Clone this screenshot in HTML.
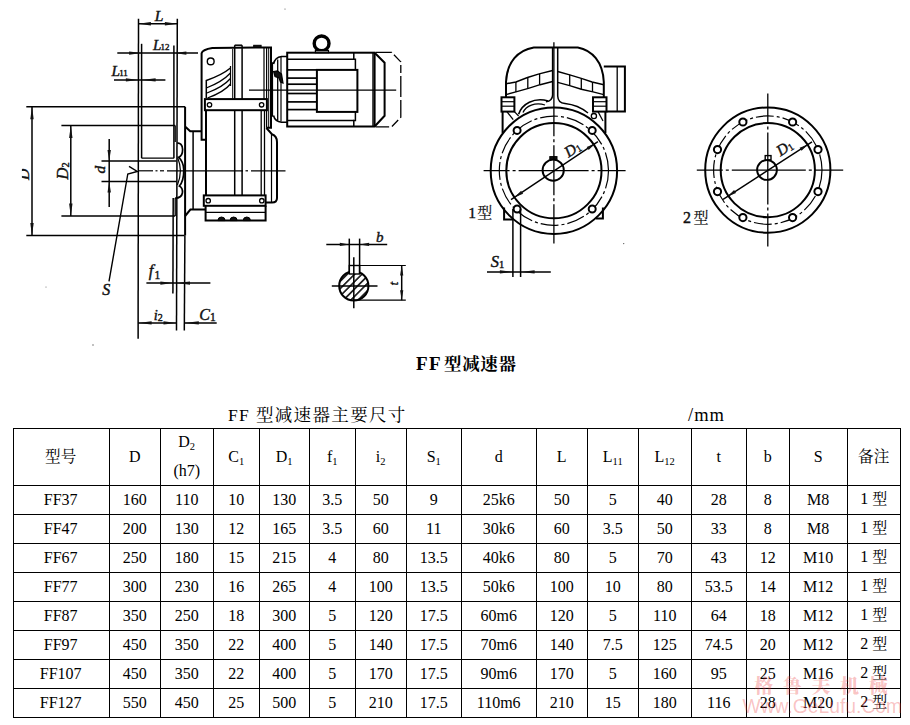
<!DOCTYPE html>
<html lang="zh-CN"><head><meta charset="utf-8"><title>FF 型减速器</title>
<style>
html,body{margin:0;padding:0;background:#fff;}
body{width:910px;height:725px;position:relative;overflow:hidden;font-family:"Liberation Serif","Noto Serif CJK SC",serif;color:#000;}
.ln{position:absolute;background:#000;}
.c{position:absolute;display:flex;align-items:center;justify-content:center;text-align:center;font-size:16px;line-height:29px;white-space:nowrap;}
.c span{display:block;position:relative;top:-1px;left:-0.3px;}
.c sub{font-size:10.5px;vertical-align:baseline;position:relative;top:3px;line-height:0;}
.c i.k{font-style:normal;font-size:15px;}
.c.h i.k{font-size:15.6px;}
.cap{position:absolute;white-space:nowrap;}
svg{position:absolute;left:0;top:0;}
svg tspan.cj{font-family:"Liberation Serif","Noto Serif CJK SC",serif !important;stroke-width:0.15px !important;}
svg text,svg tspan{stroke:#111;stroke-width:0.4px;fill:#111;font-family:"Liberation Serif",serif;}
.wm{position:absolute;color:rgba(235,50,50,0.30);white-space:nowrap;}
</style></head><body>
<svg width="910" height="400" viewBox="0 0 910 400" stroke="#000" stroke-linecap="butt">
<line x1="138.5" y1="18.8" x2="138.1" y2="338.7" stroke-width="1.5" />
<line x1="177.3" y1="18.8" x2="176.5" y2="330.4" stroke-width="1.5" />
<line x1="141.6" y1="43.8" x2="141.6" y2="158.2" stroke-width="1.5" />
<line x1="173.9" y1="45.6" x2="173.9" y2="158.2" stroke-width="1.5" />
<line x1="173.2" y1="198" x2="172.9" y2="293.6" stroke-width="1.5" />
<line x1="184.9" y1="235.6" x2="184.3" y2="330.4" stroke-width="1.5" />
<line x1="138.4" y1="23.8" x2="177.4" y2="23.8" stroke-width="1.5" />
<polygon points="138.4,23.8 150.9,25.5 150.9,22.1" fill="#111" stroke="none"/>
<polygon points="177.4,23.8 164.9,22.1 164.9,25.5" fill="#111" stroke="none"/>
<line x1="117.3" y1="53.1" x2="198" y2="53.1" stroke-width="1.5" />
<polygon points="141.6,53.1 129.1,51.4 129.1,54.8" fill="#111" stroke="none"/>
<polygon points="173.9,53.1 186.4,54.8 186.4,51.4" fill="#111" stroke="none"/>
<line x1="114" y1="79.9" x2="165.4" y2="79.9" stroke-width="1.5" />
<polygon points="138.4,79.9 125.9,78.2 125.9,81.6" fill="#111" stroke="none"/>
<polygon points="141.6,79.9 155.6,81.6 155.6,78.2" fill="#111" stroke="none"/>
<line x1="26.3" y1="106.8" x2="185.1" y2="106.8" stroke-width="1.5" />
<line x1="26.3" y1="235.6" x2="184.6" y2="235.6" stroke-width="1.5" />
<line x1="32" y1="106.8" x2="32" y2="235.6" stroke-width="1.5" />
<polygon points="32.0,106.8 30.3,119.3 33.7,119.3" fill="#111" stroke="none"/>
<polygon points="32.0,235.6 33.7,223.1 30.3,223.1" fill="#111" stroke="none"/>
<line x1="61.4" y1="125.6" x2="175.2" y2="125.6" stroke-width="1.5" />
<line x1="61.4" y1="216" x2="175.2" y2="216" stroke-width="1.5" />
<line x1="70.8" y1="125.6" x2="70.8" y2="216" stroke-width="1.5" />
<polygon points="70.8,125.6 69.1,138.1 72.5,138.1" fill="#111" stroke="none"/>
<polygon points="70.8,216.0 72.5,203.5 69.1,203.5" fill="#111" stroke="none"/>
<line x1="109.2" y1="138.9" x2="109.2" y2="207" stroke-width="1.5" />
<line x1="101.5" y1="160.9" x2="138.4" y2="160.9" stroke-width="1.5" />
<line x1="101.5" y1="181.5" x2="138.4" y2="181.5" stroke-width="1.5" />
<polygon points="109.2,160.9 110.9,149.9 107.5,149.9" fill="#111" stroke="none"/>
<polygon points="109.2,181.5 107.5,192.5 110.9,192.5" fill="#111" stroke="none"/>
<line x1="141.6" y1="158.2" x2="173.9" y2="158.2" stroke-width="1.3" />
<line x1="138.4" y1="160.9" x2="176.5" y2="160.9" stroke-width="1.5" />
<line x1="138.4" y1="181.5" x2="176.5" y2="181.5" stroke-width="1.3" />
<line x1="175.2" y1="125.6" x2="175.2" y2="142" stroke-width="1.3" />
<line x1="175.2" y1="198" x2="175.2" y2="216" stroke-width="1.3" />
<line x1="138.6" y1="170.8" x2="153" y2="170.8" stroke-width="1.2" />
<line x1="155.5" y1="170.8" x2="157.5" y2="170.8" stroke-width="1.2" />
<line x1="160" y1="170.8" x2="164" y2="170.8" stroke-width="1.2" />
<line x1="167" y1="170.8" x2="243" y2="170.8" stroke-width="1.2" />
<line x1="245.5" y1="170.8" x2="248" y2="170.8" stroke-width="1.2" />
<line x1="251" y1="170.8" x2="285.5" y2="170.8" stroke-width="1.2" />
<path d="M129,166.4 L137.3,171.4 L127.8,174 L109,281.4" stroke-width="1.4" fill="none" />
<line x1="146.4" y1="283.1" x2="210.4" y2="283.1" stroke-width="1.5" />
<polygon points="172.9,283.1 160.4,281.4 160.4,284.8" fill="#111" stroke="none"/>
<polygon points="176.5,283.1 190.0,284.8 190.0,281.4" fill="#111" stroke="none"/>
<line x1="138.1" y1="322.9" x2="176.5" y2="322.9" stroke-width="1.5" />
<polygon points="138.1,322.9 151.6,324.6 151.6,321.2" fill="#111" stroke="none"/>
<polygon points="176.5,322.9 163.5,321.2 163.5,324.6" fill="#111" stroke="none"/>
<line x1="184.3" y1="322.9" x2="216.7" y2="322.9" stroke-width="1.5" />
<polygon points="184.3,322.9 198.8,324.6 198.8,321.2" fill="#111" stroke="none"/>
<path d="M185.1,106.8 V235.6 M185.1,126.4 L190.2,131.2 H201.6" stroke-width="2.0" fill="none" />
<line x1="193.1" y1="131.2" x2="193.1" y2="209.6" stroke-width="1.5" />
<path d="M185.1,216 L190.4,209.6 H205.6" stroke-width="2.0" fill="none" />
<path d="M177.3,143.2 C180,142.6 182.6,145 182.6,149.5 C182.6,154 181,156.5 178.6,157.2 C180.5,159 183.6,163 183.8,170 C183.8,177 182.5,182.5 179.4,186 C182,187.5 182.8,190 182.4,193 C181.8,196.5 178.5,198 175.2,198.2" stroke-width="1.7" fill="none" />
<path d="M177.6,157.5 C179,161 180.4,165 180.4,170.5 C180.4,176 179,181 177.4,185" stroke-width="1.2" fill="none" />
<path d="M206,139.8 H201.6 V53.2 Q202.5,49.5 212.3,47.9 L271,47.4 V127.8 H266.4" stroke-width="2.0" fill="none" />
<line x1="264" y1="47.4" x2="264" y2="99.1" stroke-width="1.2" />
<line x1="266.6" y1="47.4" x2="266.6" y2="127.8" stroke-width="1.2" />
<line x1="268.7" y1="47.4" x2="268.7" y2="127.8" stroke-width="1.0" />
<line x1="206" y1="110.2" x2="206" y2="195.4" stroke-width="2.0" />
<line x1="234.7" y1="45.2" x2="234.7" y2="195.4" stroke-width="1.5" />
<line x1="242.1" y1="45.2" x2="242.1" y2="195.4" stroke-width="1.5" />
<line x1="234.7" y1="45.2" x2="242.1" y2="45.2" stroke-width="1.5" />
<line x1="232.7" y1="49" x2="232.7" y2="98.7" stroke-width="1.0" />
<rect x="204.9" y="99.1" width="62.0" height="11.1" stroke-width="2.0" fill="#fff"/>
<circle cx="209.5" cy="104.8" r="2.2" stroke-width="1.3" fill="none"/>
<circle cx="261.6" cy="104.8" r="2.2" stroke-width="1.3" fill="none"/>
<rect x="203.8" y="195.4" width="61.8" height="10.4" stroke-width="2.0" fill="#fff"/>
<circle cx="208.2" cy="200.7" r="2.2" stroke-width="1.3" fill="none"/>
<circle cx="261.8" cy="200.7" r="2.2" stroke-width="1.3" fill="none"/>
<path d="M205.6,205.8 V220.6 H265.6 V205.8" stroke-width="2.0" fill="none" />
<line x1="205.6" y1="212.4" x2="265.6" y2="212.4" stroke-width="1.2" />
<path d="M217.9,220.6 A3.6,3.6 0 0 1 225.1,220.6 Z" fill="#111" stroke-width="1"/>
<path d="M230.0,220.6 A3.6,3.6 0 0 1 237.2,220.6 Z" fill="#111" stroke-width="1"/>
<path d="M243.20000000000002,220.6 A3.6,3.6 0 0 1 250.4,220.6 Z" fill="#111" stroke-width="1"/>
<line x1="261.2" y1="110.2" x2="261.2" y2="195.4" stroke-width="1.3" />
<line x1="264.5" y1="110.2" x2="264.5" y2="195.4" stroke-width="1.3" />
<path d="M266.4,128 L271.9,134.2 Q277,136 277,142 V198 Q277,202.5 272,202.5 H265.6" stroke-width="2.0" fill="none" />
<line x1="271.5" y1="134" x2="271.5" y2="202.5" stroke-width="1.2" />
<circle cx="210.7" cy="61.4" r="3.4" stroke-width="1.4" fill="none"/>
<path d="M206.3,98 V80.5 Q222,75 230.5,68" stroke-width="1.5" fill="none" />
<path d="M206.3,88 Q222,82 230.5,73" stroke-width="1.3" fill="none" />
<path d="M207,93 Q223,87 230.5,78.5" stroke-width="1.3" fill="none" />
<path d="M207.5,98 Q224,92 230.5,84" stroke-width="1.3" fill="none" />
<line x1="230.5" y1="66" x2="230.5" y2="86" stroke-width="1.2" />
<rect x="253.7" y="45.3" width="7.4" height="2.1" stroke-width="1" fill="#111"/>
<path d="M272.3,62.3 V116.7 M273.5,64 Q275,57.2 281.5,56.5 H287.2 M273.5,115.5 Q275,121.5 281.5,122.2 H287.2" stroke-width="1.6" fill="none" />
<line x1="277.7" y1="59.5" x2="277.7" y2="120" stroke-width="1.3" />
<line x1="281" y1="57" x2="281" y2="121.6" stroke-width="1.2" />
<path d="M273.6,71.5 L277.5,70.8 L281.5,74 L283,83 L280.5,82 L279,78 L275,76.5 Z" fill="#111" stroke-width="1.2"/>
<rect x="287.2" y="52.7" width="87.4" height="73.8" stroke-width="2.0" fill="none"/>
<line x1="373" y1="52.7" x2="373" y2="126.5" stroke-width="1.4" />
<line x1="287.2" y1="59.2" x2="353.8" y2="59.2" stroke-width="1.5" />
<line x1="287.2" y1="120.4" x2="353.8" y2="120.4" stroke-width="1.5" />
<path d="M353.8,52.7 V59.2 H355.4 V69.9 M355.4,111.9 V120.4 H353.8 V126.5" stroke-width="1.5" fill="none" />
<line x1="287.2" y1="78.1" x2="317" y2="78.1" stroke-width="1.7" />
<line x1="287.2" y1="84.2" x2="317" y2="84.2" stroke-width="1.7" />
<line x1="287.2" y1="93.5" x2="317" y2="93.5" stroke-width="1.7" />
<line x1="287.2" y1="101.9" x2="317" y2="101.9" stroke-width="1.7" />
<line x1="287.2" y1="109.6" x2="317" y2="109.6" stroke-width="1.7" />
<line x1="287.2" y1="69.9" x2="317" y2="69.9" stroke-width="1.7" />
<rect x="316.9" y="69.9" width="40.5" height="42.0" stroke-width="2.0" fill="none"/>
<path d="M374.6,52.7 L384.6,62.7 V115.8 L374.6,126.5" stroke-width="2.0" fill="none" />
<path d="M376,52.3 H391.5 L400.8,61.9 V117.3 L391.5,126.9 H376" stroke-width="1.3" fill="none" stroke-dasharray="16 3 10 3 8 3 21 3 18 3 9 3"/>
<circle cx="321.6" cy="43.4" r="7.4" stroke-width="3.4" fill="none"/>
<rect x="315.4" y="50.4" width="13.1" height="2.3" stroke-width="1.2" fill="#777"/>
<line x1="249" y1="90.2" x2="396.2" y2="90.2" stroke-width="1.3" />
<defs><pattern id="hat" width="5.2" height="5.2" patternUnits="userSpaceOnUse" patternTransform="rotate(-45 353.8 285.9)"><line x1="0" y1="2.6" x2="5.2" y2="2.6" stroke="#000" stroke-width="1.5"/></pattern></defs>
<circle cx="353.8" cy="285.9" r="14.6" stroke-width="2.0" fill="url(#hat)"/>
<rect x="349.3" y="265.5" width="10.3" height="8.5" stroke-width="1.4" fill="#fff"/>
<line x1="349.3" y1="238.6" x2="349.3" y2="274" stroke-width="1.5" />
<line x1="359.6" y1="238.6" x2="359.6" y2="274" stroke-width="1.5" />
<line x1="326.3" y1="244.4" x2="387.2" y2="244.4" stroke-width="1.5" />
<polygon points="349.3,244.4 339.8,242.8 339.8,246.0" fill="#111" stroke="none"/>
<polygon points="359.6,244.4 369.1,246.0 369.1,242.8" fill="#111" stroke="none"/>
<line x1="359.6" y1="265.5" x2="405.8" y2="265.5" stroke-width="1.2" />
<line x1="353.8" y1="300.2" x2="405.8" y2="300.2" stroke-width="1.2" />
<line x1="401.7" y1="265.5" x2="401.7" y2="300.2" stroke-width="1.5" />
<polygon points="401.7,265.5 400.1,275.5 403.3,275.5" fill="#111" stroke="none"/>
<polygon points="401.7,300.2 403.3,290.2 400.1,290.2" fill="#111" stroke="none"/>
<line x1="331.8" y1="285.9" x2="377.5" y2="285.9" stroke-width="1.5" />
<line x1="353.8" y1="257.2" x2="353.8" y2="308.2" stroke-width="1.5" />
<circle cx="553.9" cy="170.7" r="63.2" stroke-width="2.0" fill="none"/>
<circle cx="553.9" cy="170.7" r="47.6" stroke-width="2.0" fill="none"/>
<circle cx="553.9" cy="170.7" r="54.6" stroke-width="1.2" fill="none" stroke-dasharray="18 3 3 3"/>
<circle cx="517.1" cy="130.4" r="3.5" stroke-width="2.0" fill="#fff"/>
<circle cx="592.2" cy="130.4" r="3.5" stroke-width="2.0" fill="#fff"/>
<circle cx="517.1" cy="209.0" r="3.5" stroke-width="2.0" fill="#fff"/>
<circle cx="592.2" cy="209.0" r="3.5" stroke-width="2.0" fill="#fff"/>
<circle cx="553.2" cy="170.2" r="10.6" stroke-width="1.9" fill="none"/>
<rect x="549.8" y="156.6" width="7.2" height="2.7" stroke-width="1" fill="#111"/>
<line x1="483.6" y1="170.7" x2="625.6" y2="170.7" stroke-width="1.3" stroke-dasharray="26 3 3 3 70 3 3 3 60"/>
<line x1="553.9" y1="42.2" x2="553.9" y2="243.6" stroke-width="1.3" stroke-dasharray="94 3 3 3 50 3 3 3 60"/>
<line x1="511" y1="199.7" x2="597.9" y2="141.6" stroke-width="1.4" />
<polygon points="514.6,197.3 523.1,193.8 521.1,190.8" fill="#111" stroke="none"/>
<polygon points="595.2,143.4 586.7,146.9 588.7,149.9" fill="#111" stroke="none"/>
<path d="M506,97.3 V82 C507,62 518,50 533.8,47.4 H577.8 C592,50 603,62 603.8,82 V97.3" stroke-width="2.0" fill="none" />
<path d="M506,83.8 L515.9,82 L527.5,77.5 L539.2,73.9 L552.6,70.5" stroke-width="1.4" fill="none" />
<path d="M506,94.6 L515.9,91.9 L528.4,88.3 L540.1,84.7 L552.6,81.5" stroke-width="1.4" fill="none" />
<path d="M557.7,71.5 L569.7,74.8 L581.3,78.4 L592.1,82 L603.8,84.7" stroke-width="1.4" fill="none" />
<path d="M557.7,82.3 L569.7,85.6 L581.3,89.2 L593,91.9 L603.8,94.6" stroke-width="1.4" fill="none" />
<line x1="515.9" y1="82" x2="515.9" y2="91.9" stroke-width="1.3" />
<line x1="527.8" y1="77.5" x2="527.8" y2="88.3" stroke-width="1.3" />
<line x1="539.6" y1="73.9" x2="539.6" y2="84.7" stroke-width="1.3" />
<line x1="569.7" y1="74.8" x2="569.7" y2="85.6" stroke-width="1.3" />
<line x1="581.3" y1="78.4" x2="581.3" y2="89.2" stroke-width="1.3" />
<line x1="592.5" y1="82" x2="592.5" y2="91.9" stroke-width="1.3" />
<path d="M552.6,47.4 V95 Q552.4,101 546,101.8 M557.7,47.4 V96 Q558,103 565,103.6 Q578,105 588,113" stroke-width="1.5" fill="none" />
<rect x="501.5" y="97.3" width="12.9" height="14.3" stroke-width="2.0" fill="none"/>
<line x1="501.5" y1="101.7" x2="514.4" y2="101.7" stroke-width="1.2" />
<line x1="501.5" y1="106.2" x2="514.4" y2="106.2" stroke-width="1.2" />
<rect x="593" y="97.3" width="13.5" height="14.3" stroke-width="2.0" fill="none"/>
<line x1="593" y1="101.7" x2="606.5" y2="101.7" stroke-width="1.2" />
<line x1="593" y1="106.2" x2="606.5" y2="106.2" stroke-width="1.2" />
<path d="M603.8,66.4 H624.9 V111.6 H606.5" stroke-width="2.0" fill="none" />
<line x1="617.2" y1="66.4" x2="617.2" y2="111.6" stroke-width="1.3" />
<line x1="502.6" y1="111.6" x2="502.6" y2="133" stroke-width="2.0" />
<line x1="605.4" y1="111.6" x2="605.4" y2="133" stroke-width="2.0" />
<path d="M504.1,207.6 V219.5 H513.2 M602.9,207.6 V218.6 H596" stroke-width="2.0" fill="none" />
<path d="M518.6,114.3 C522,104 534,97 548.2,101" stroke-width="1.6" fill="none" />
<path d="M523,112.5 C526,106 535,102 545,105" stroke-width="1.3" fill="none" />
<line x1="506.9" y1="111.6" x2="513.2" y2="119.7" stroke-width="1.3" />
<line x1="514.4" y1="111.6" x2="518.6" y2="116" stroke-width="1.2" />
<circle cx="593.9" cy="116.1" r="2.6" stroke-width="1.3" fill="none"/>
<line x1="598" y1="111.6" x2="603" y2="121" stroke-width="1.2" />
<line x1="512.9" y1="209" x2="512.9" y2="277" stroke-width="1.5" />
<line x1="520.6" y1="209" x2="520.6" y2="277" stroke-width="1.5" />
<line x1="487" y1="271.9" x2="550.8" y2="271.9" stroke-width="1.5" />
<polygon points="512.9,271.9 499.9,270.2 499.9,273.6" fill="#111" stroke="none"/>
<polygon points="520.6,271.9 534.6,273.6 534.6,270.2" fill="#111" stroke="none"/>
<circle cx="767.8" cy="170.1" r="62.6" stroke-width="2.0" fill="none"/>
<circle cx="767.8" cy="170.1" r="47.1" stroke-width="2.0" fill="none"/>
<circle cx="767.8" cy="170.1" r="54.2" stroke-width="1.2" fill="none" stroke-dasharray="18 3 3 3"/>
<circle cx="742.9" cy="122" r="3.6" stroke-width="2.0" fill="#fff"/>
<circle cx="792.6" cy="122" r="3.6" stroke-width="2.0" fill="#fff"/>
<circle cx="717.5" cy="149.6" r="3.6" stroke-width="2.0" fill="#fff"/>
<circle cx="818" cy="149.6" r="3.6" stroke-width="2.0" fill="#fff"/>
<circle cx="717.5" cy="191.6" r="3.6" stroke-width="2.0" fill="#fff"/>
<circle cx="818" cy="191.6" r="3.6" stroke-width="2.0" fill="#fff"/>
<circle cx="742.9" cy="217.6" r="3.6" stroke-width="2.0" fill="#fff"/>
<circle cx="792.6" cy="217.6" r="3.6" stroke-width="2.0" fill="#fff"/>
<circle cx="767" cy="170" r="9.9" stroke-width="1.9" fill="none"/>
<rect x="765.2" y="155.6" width="5.8" height="4.2" stroke-width="1.4" fill="#fff"/>
<line x1="696.8" y1="170.1" x2="843.2" y2="170.1" stroke-width="1.3" stroke-dasharray="26 3 3 3 74 3 3 3 60"/>
<line x1="767.8" y1="93.4" x2="767.8" y2="246.5" stroke-width="1.3" stroke-dasharray="30 3 3 3 72 3 3 3 60"/>
<line x1="723.1" y1="199.3" x2="812" y2="141.9" stroke-width="1.4" />
<polygon points="727.5,196.5 736.0,193.1 734.1,190.1" fill="#111" stroke="none"/>
<polygon points="808.1,144.4 799.6,147.8 801.5,150.8" fill="#111" stroke="none"/>
<text x="154.8" y="20.5" font-size="15.6" font-style="italic">L</text>
<text x="153" y="49.7" font-size="15" font-style="italic">L<tspan font-size="9" font-style="normal" dy="0.6" dx="-0.8">12</tspan></text>
<text x="111.5" y="75.8" font-size="15.3" font-style="italic">L<tspan font-size="9" font-style="normal" dy="0.6" dx="-0.8">11</tspan></text>
<text x="29.3" y="180" font-size="15.5" transform="rotate(-90 29.3 180)" font-style="italic">D</text>
<rect x="14" y="160" width="7.9" height="30" fill="#fff" stroke="none"/>
<text x="67.8" y="179.5" font-size="16.5" transform="rotate(-90 67.8 179.5)" font-style="italic">D<tspan font-size="10.5" font-style="normal" dy="1.5" dx="0">2</tspan></text>
<text x="104.7" y="173.5" font-size="15.5" transform="rotate(-90 104.7 173.5)" font-style="italic">d</text>
<text x="102.2" y="295" font-size="16" font-style="italic">S</text>
<text x="148.7" y="275.8" font-size="16.6" font-style="italic">f<tspan font-size="11.5" font-style="normal" dy="3.6" dx="1.2">1</tspan></text>
<text x="153.8" y="320" font-size="14.5" font-style="italic">i<tspan font-size="10" font-style="normal" dy="1.4" dx="0">2</tspan></text>
<text x="199.3" y="320" font-size="16" font-style="italic">C<tspan font-size="11.5" font-style="normal" dy="1" dx="0">1</tspan></text>
<text x="376" y="242" font-size="15" font-style="italic">b</text>
<text x="398.4" y="285.6" font-size="13.5" transform="rotate(-90 398.4 285.6)" font-style="italic">t</text>
<text x="568.5" y="157.8" font-size="15.5" transform="rotate(-33 568.5 157.8)" font-style="italic">D<tspan font-size="10" font-style="normal" dy="1" dx="0">1</tspan></text>
<text x="780.5" y="156.6" font-size="15.5" transform="rotate(-33 780.5 156.6)" font-style="italic">D<tspan font-size="10" font-style="normal" dy="1" dx="0">1</tspan></text>
<text x="490.8" y="266.8" font-size="16.5" font-style="italic">S<tspan font-size="10.5" font-style="normal" dy="1" dx="0">1</tspan></text>
<text x="468.2" y="218.3" font-size="15.5" >1<tspan class="cj" font-size="15" dx="1.2">型</tspan></text>
<text x="683" y="223.4" font-size="16" >2<tspan class="cj" font-size="15" dx="2.5">型</tspan></text>
<circle cx="285" cy="9" r="0.6" fill="#555" stroke="none"/>
<circle cx="93" cy="345" r="0.7" fill="#555" stroke="none"/>
<circle cx="623.7" cy="243.6" r="0.7" fill="#555" stroke="none"/>
<circle cx="46" cy="287" r="0.5" fill="#555" stroke="none"/>
</svg>
<div class="cap" style="left:416px;top:352px;font-size:17.5px;font-weight:bold;letter-spacing:0.65px;line-height:24px;"><span style="font-size:19px;letter-spacing:1.3px">FF</span><span style="letter-spacing:-2.2px"> </span>型减速器</div>
<div class="cap" style="left:228px;top:403px;font-size:17.5px;letter-spacing:1.35px;line-height:24px;">FF 型减速器主要尺寸</div>
<div class="cap" style="left:688px;top:403px;font-size:18.5px;letter-spacing:1px;line-height:24px;">/mm</div>
<div class="ln" style="left:13px;top:428px;width:1px;height:290px"></div>
<div class="ln" style="left:109px;top:428px;width:1px;height:290px"></div>
<div class="ln" style="left:160px;top:428px;width:1px;height:290px"></div>
<div class="ln" style="left:213px;top:428px;width:1px;height:290px"></div>
<div class="ln" style="left:259px;top:428px;width:1px;height:290px"></div>
<div class="ln" style="left:309px;top:428px;width:1px;height:290px"></div>
<div class="ln" style="left:355px;top:428px;width:1px;height:290px"></div>
<div class="ln" style="left:406px;top:428px;width:1px;height:290px"></div>
<div class="ln" style="left:461px;top:428px;width:1px;height:290px"></div>
<div class="ln" style="left:536px;top:428px;width:1px;height:290px"></div>
<div class="ln" style="left:587px;top:428px;width:1px;height:290px"></div>
<div class="ln" style="left:638px;top:428px;width:1px;height:290px"></div>
<div class="ln" style="left:691px;top:428px;width:1px;height:290px"></div>
<div class="ln" style="left:746px;top:428px;width:1px;height:290px"></div>
<div class="ln" style="left:789px;top:428px;width:1px;height:290px"></div>
<div class="ln" style="left:847px;top:428px;width:1px;height:290px"></div>
<div class="ln" style="left:900px;top:428px;width:1px;height:290px"></div>
<div class="ln" style="left:13px;top:428px;width:888px;height:1px"></div>
<div class="ln" style="left:13px;top:485px;width:888px;height:1px"></div>
<div class="ln" style="left:13px;top:514px;width:888px;height:1px"></div>
<div class="ln" style="left:13px;top:543px;width:888px;height:1px"></div>
<div class="ln" style="left:13px;top:572px;width:888px;height:1px"></div>
<div class="ln" style="left:13px;top:601px;width:888px;height:1px"></div>
<div class="ln" style="left:13px;top:630px;width:888px;height:1px"></div>
<div class="ln" style="left:13px;top:659px;width:888px;height:1px"></div>
<div class="ln" style="left:13px;top:688px;width:888px;height:1px"></div>
<div class="ln" style="left:13px;top:717px;width:888px;height:1px"></div>
<div class="c h" style="left:13px;top:429px;width:96px;height:56px"><span><i class=k>型号</i></span></div>
<div class="c h" style="left:110px;top:429px;width:50px;height:56px"><span>D</span></div>
<div class="c h2" style="left:161px;top:429px;width:52px;height:56px"><span>D<sub>2</sub><br>(h7)</span></div>
<div class="c h" style="left:214px;top:429px;width:45px;height:56px"><span>C<sub>1</sub></span></div>
<div class="c h" style="left:260px;top:429px;width:49px;height:56px"><span>D<sub>1</sub></span></div>
<div class="c h" style="left:310px;top:429px;width:45px;height:56px"><span>f<sub>1</sub></span></div>
<div class="c h" style="left:356px;top:429px;width:50px;height:56px"><span>i<sub>2</sub></span></div>
<div class="c h" style="left:407px;top:429px;width:54px;height:56px"><span>S<sub>1</sub></span></div>
<div class="c h" style="left:462px;top:429px;width:74px;height:56px"><span>d</span></div>
<div class="c h" style="left:537px;top:429px;width:50px;height:56px"><span>L</span></div>
<div class="c h" style="left:588px;top:429px;width:50px;height:56px"><span>L<sub>11</sub></span></div>
<div class="c h" style="left:639px;top:429px;width:52px;height:56px"><span>L<sub>12</sub></span></div>
<div class="c h" style="left:692px;top:429px;width:54px;height:56px"><span>t</span></div>
<div class="c h" style="left:747px;top:429px;width:42px;height:56px"><span>b</span></div>
<div class="c h" style="left:790px;top:429px;width:57px;height:56px"><span>S</span></div>
<div class="c h" style="left:848px;top:429px;width:52px;height:56px"><span><i class=k>备注</i></span></div>
<div class="c " style="left:13px;top:486px;width:96px;height:28px"><span>FF37</span></div>
<div class="c " style="left:110px;top:486px;width:50px;height:28px"><span>160</span></div>
<div class="c " style="left:161px;top:486px;width:52px;height:28px"><span>110</span></div>
<div class="c " style="left:214px;top:486px;width:45px;height:28px"><span>10</span></div>
<div class="c " style="left:260px;top:486px;width:49px;height:28px"><span>130</span></div>
<div class="c " style="left:310px;top:486px;width:45px;height:28px"><span>3.5</span></div>
<div class="c " style="left:356px;top:486px;width:50px;height:28px"><span>50</span></div>
<div class="c " style="left:407px;top:486px;width:54px;height:28px"><span>9</span></div>
<div class="c " style="left:462px;top:486px;width:74px;height:28px"><span>25k6</span></div>
<div class="c " style="left:537px;top:486px;width:50px;height:28px"><span>50</span></div>
<div class="c " style="left:588px;top:486px;width:50px;height:28px"><span>5</span></div>
<div class="c " style="left:639px;top:486px;width:52px;height:28px"><span>40</span></div>
<div class="c " style="left:692px;top:486px;width:54px;height:28px"><span>28</span></div>
<div class="c " style="left:747px;top:486px;width:42px;height:28px"><span>8</span></div>
<div class="c " style="left:790px;top:486px;width:57px;height:28px"><span>M8</span></div>
<div class="c " style="left:848px;top:486px;width:52px;height:28px"><span>1 <i class=k>型</i></span></div>
<div class="c " style="left:13px;top:515px;width:96px;height:28px"><span>FF47</span></div>
<div class="c " style="left:110px;top:515px;width:50px;height:28px"><span>200</span></div>
<div class="c " style="left:161px;top:515px;width:52px;height:28px"><span>130</span></div>
<div class="c " style="left:214px;top:515px;width:45px;height:28px"><span>12</span></div>
<div class="c " style="left:260px;top:515px;width:49px;height:28px"><span>165</span></div>
<div class="c " style="left:310px;top:515px;width:45px;height:28px"><span>3.5</span></div>
<div class="c " style="left:356px;top:515px;width:50px;height:28px"><span>60</span></div>
<div class="c " style="left:407px;top:515px;width:54px;height:28px"><span>11</span></div>
<div class="c " style="left:462px;top:515px;width:74px;height:28px"><span>30k6</span></div>
<div class="c " style="left:537px;top:515px;width:50px;height:28px"><span>60</span></div>
<div class="c " style="left:588px;top:515px;width:50px;height:28px"><span>3.5</span></div>
<div class="c " style="left:639px;top:515px;width:52px;height:28px"><span>50</span></div>
<div class="c " style="left:692px;top:515px;width:54px;height:28px"><span>33</span></div>
<div class="c " style="left:747px;top:515px;width:42px;height:28px"><span>8</span></div>
<div class="c " style="left:790px;top:515px;width:57px;height:28px"><span>M8</span></div>
<div class="c " style="left:848px;top:515px;width:52px;height:28px"><span>1 <i class=k>型</i></span></div>
<div class="c " style="left:13px;top:544px;width:96px;height:28px"><span>FF67</span></div>
<div class="c " style="left:110px;top:544px;width:50px;height:28px"><span>250</span></div>
<div class="c " style="left:161px;top:544px;width:52px;height:28px"><span>180</span></div>
<div class="c " style="left:214px;top:544px;width:45px;height:28px"><span>15</span></div>
<div class="c " style="left:260px;top:544px;width:49px;height:28px"><span>215</span></div>
<div class="c " style="left:310px;top:544px;width:45px;height:28px"><span>4</span></div>
<div class="c " style="left:356px;top:544px;width:50px;height:28px"><span>80</span></div>
<div class="c " style="left:407px;top:544px;width:54px;height:28px"><span>13.5</span></div>
<div class="c " style="left:462px;top:544px;width:74px;height:28px"><span>40k6</span></div>
<div class="c " style="left:537px;top:544px;width:50px;height:28px"><span>80</span></div>
<div class="c " style="left:588px;top:544px;width:50px;height:28px"><span>5</span></div>
<div class="c " style="left:639px;top:544px;width:52px;height:28px"><span>70</span></div>
<div class="c " style="left:692px;top:544px;width:54px;height:28px"><span>43</span></div>
<div class="c " style="left:747px;top:544px;width:42px;height:28px"><span>12</span></div>
<div class="c " style="left:790px;top:544px;width:57px;height:28px"><span>M10</span></div>
<div class="c " style="left:848px;top:544px;width:52px;height:28px"><span>1 <i class=k>型</i></span></div>
<div class="c " style="left:13px;top:573px;width:96px;height:28px"><span>FF77</span></div>
<div class="c " style="left:110px;top:573px;width:50px;height:28px"><span>300</span></div>
<div class="c " style="left:161px;top:573px;width:52px;height:28px"><span>230</span></div>
<div class="c " style="left:214px;top:573px;width:45px;height:28px"><span>16</span></div>
<div class="c " style="left:260px;top:573px;width:49px;height:28px"><span>265</span></div>
<div class="c " style="left:310px;top:573px;width:45px;height:28px"><span>4</span></div>
<div class="c " style="left:356px;top:573px;width:50px;height:28px"><span>100</span></div>
<div class="c " style="left:407px;top:573px;width:54px;height:28px"><span>13.5</span></div>
<div class="c " style="left:462px;top:573px;width:74px;height:28px"><span>50k6</span></div>
<div class="c " style="left:537px;top:573px;width:50px;height:28px"><span>100</span></div>
<div class="c " style="left:588px;top:573px;width:50px;height:28px"><span>10</span></div>
<div class="c " style="left:639px;top:573px;width:52px;height:28px"><span>80</span></div>
<div class="c " style="left:692px;top:573px;width:54px;height:28px"><span>53.5</span></div>
<div class="c " style="left:747px;top:573px;width:42px;height:28px"><span>14</span></div>
<div class="c " style="left:790px;top:573px;width:57px;height:28px"><span>M12</span></div>
<div class="c " style="left:848px;top:573px;width:52px;height:28px"><span>1 <i class=k>型</i></span></div>
<div class="c " style="left:13px;top:602px;width:96px;height:28px"><span>FF87</span></div>
<div class="c " style="left:110px;top:602px;width:50px;height:28px"><span>350</span></div>
<div class="c " style="left:161px;top:602px;width:52px;height:28px"><span>250</span></div>
<div class="c " style="left:214px;top:602px;width:45px;height:28px"><span>18</span></div>
<div class="c " style="left:260px;top:602px;width:49px;height:28px"><span>300</span></div>
<div class="c " style="left:310px;top:602px;width:45px;height:28px"><span>5</span></div>
<div class="c " style="left:356px;top:602px;width:50px;height:28px"><span>120</span></div>
<div class="c " style="left:407px;top:602px;width:54px;height:28px"><span>17.5</span></div>
<div class="c " style="left:462px;top:602px;width:74px;height:28px"><span>60m6</span></div>
<div class="c " style="left:537px;top:602px;width:50px;height:28px"><span>120</span></div>
<div class="c " style="left:588px;top:602px;width:50px;height:28px"><span>5</span></div>
<div class="c " style="left:639px;top:602px;width:52px;height:28px"><span>110</span></div>
<div class="c " style="left:692px;top:602px;width:54px;height:28px"><span>64</span></div>
<div class="c " style="left:747px;top:602px;width:42px;height:28px"><span>18</span></div>
<div class="c " style="left:790px;top:602px;width:57px;height:28px"><span>M12</span></div>
<div class="c " style="left:848px;top:602px;width:52px;height:28px"><span>1 <i class=k>型</i></span></div>
<div class="c " style="left:13px;top:631px;width:96px;height:28px"><span>FF97</span></div>
<div class="c " style="left:110px;top:631px;width:50px;height:28px"><span>450</span></div>
<div class="c " style="left:161px;top:631px;width:52px;height:28px"><span>350</span></div>
<div class="c " style="left:214px;top:631px;width:45px;height:28px"><span>22</span></div>
<div class="c " style="left:260px;top:631px;width:49px;height:28px"><span>400</span></div>
<div class="c " style="left:310px;top:631px;width:45px;height:28px"><span>5</span></div>
<div class="c " style="left:356px;top:631px;width:50px;height:28px"><span>140</span></div>
<div class="c " style="left:407px;top:631px;width:54px;height:28px"><span>17.5</span></div>
<div class="c " style="left:462px;top:631px;width:74px;height:28px"><span>70m6</span></div>
<div class="c " style="left:537px;top:631px;width:50px;height:28px"><span>140</span></div>
<div class="c " style="left:588px;top:631px;width:50px;height:28px"><span>7.5</span></div>
<div class="c " style="left:639px;top:631px;width:52px;height:28px"><span>125</span></div>
<div class="c " style="left:692px;top:631px;width:54px;height:28px"><span>74.5</span></div>
<div class="c " style="left:747px;top:631px;width:42px;height:28px"><span>20</span></div>
<div class="c " style="left:790px;top:631px;width:57px;height:28px"><span>M12</span></div>
<div class="c " style="left:848px;top:631px;width:52px;height:28px"><span>2 <i class=k>型</i></span></div>
<div class="c " style="left:13px;top:660px;width:96px;height:28px"><span>FF107</span></div>
<div class="c " style="left:110px;top:660px;width:50px;height:28px"><span>450</span></div>
<div class="c " style="left:161px;top:660px;width:52px;height:28px"><span>350</span></div>
<div class="c " style="left:214px;top:660px;width:45px;height:28px"><span>22</span></div>
<div class="c " style="left:260px;top:660px;width:49px;height:28px"><span>400</span></div>
<div class="c " style="left:310px;top:660px;width:45px;height:28px"><span>5</span></div>
<div class="c " style="left:356px;top:660px;width:50px;height:28px"><span>170</span></div>
<div class="c " style="left:407px;top:660px;width:54px;height:28px"><span>17.5</span></div>
<div class="c " style="left:462px;top:660px;width:74px;height:28px"><span>90m6</span></div>
<div class="c " style="left:537px;top:660px;width:50px;height:28px"><span>170</span></div>
<div class="c " style="left:588px;top:660px;width:50px;height:28px"><span>5</span></div>
<div class="c " style="left:639px;top:660px;width:52px;height:28px"><span>160</span></div>
<div class="c " style="left:692px;top:660px;width:54px;height:28px"><span>95</span></div>
<div class="c " style="left:747px;top:660px;width:42px;height:28px"><span>25</span></div>
<div class="c " style="left:790px;top:660px;width:57px;height:28px"><span>M16</span></div>
<div class="c " style="left:848px;top:660px;width:52px;height:28px"><span>2 <i class=k>型</i></span></div>
<div class="c " style="left:13px;top:689px;width:96px;height:28px"><span>FF127</span></div>
<div class="c " style="left:110px;top:689px;width:50px;height:28px"><span>550</span></div>
<div class="c " style="left:161px;top:689px;width:52px;height:28px"><span>450</span></div>
<div class="c " style="left:214px;top:689px;width:45px;height:28px"><span>25</span></div>
<div class="c " style="left:260px;top:689px;width:49px;height:28px"><span>500</span></div>
<div class="c " style="left:310px;top:689px;width:45px;height:28px"><span>5</span></div>
<div class="c " style="left:356px;top:689px;width:50px;height:28px"><span>210</span></div>
<div class="c " style="left:407px;top:689px;width:54px;height:28px"><span>17.5</span></div>
<div class="c " style="left:462px;top:689px;width:74px;height:28px"><span>110m6</span></div>
<div class="c " style="left:537px;top:689px;width:50px;height:28px"><span>210</span></div>
<div class="c " style="left:588px;top:689px;width:50px;height:28px"><span>15</span></div>
<div class="c " style="left:639px;top:689px;width:52px;height:28px"><span>180</span></div>
<div class="c " style="left:692px;top:689px;width:54px;height:28px"><span>116</span></div>
<div class="c " style="left:747px;top:689px;width:42px;height:28px"><span>28</span></div>
<div class="c " style="left:790px;top:689px;width:57px;height:28px"><span>M20</span></div>
<div class="c " style="left:848px;top:689px;width:52px;height:28px"><span>2 <i class=k>型</i></span></div>
<div class="wm" style="left:754px;top:673px;font-size:19px;line-height:28px;letter-spacing:9.7px;font-family:'Liberation Serif','Noto Serif CJK SC',serif;font-weight:900;">格鲁夫机械</div>
<div class="wm" style="left:742.5px;top:696px;font-size:19.3px;line-height:22px;font-family:'Liberation Sans',sans-serif;">Www.GeLufu.Com</div>
</body></html>
